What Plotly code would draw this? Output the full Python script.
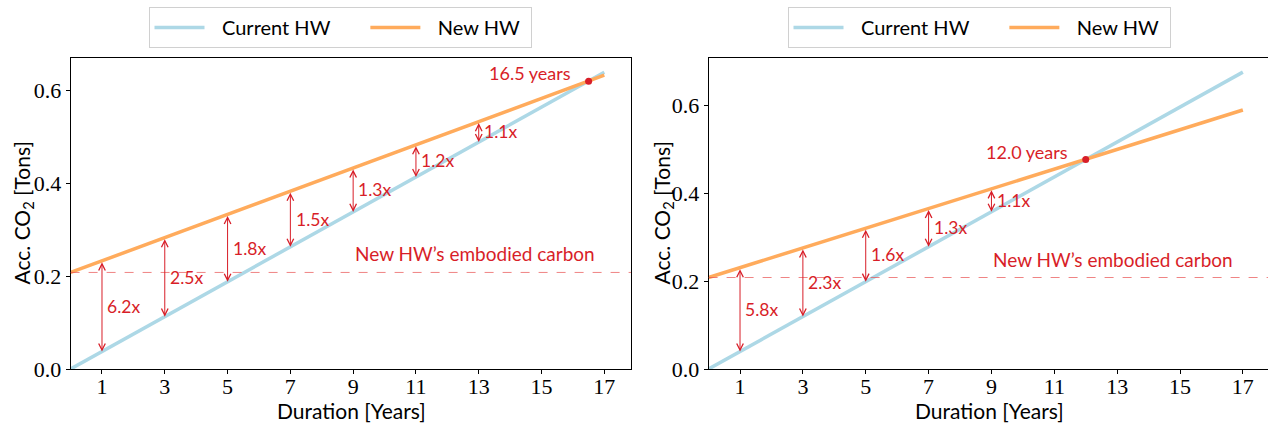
import plotly.graph_objects as go

# ---------------- data ----------------
years = [0, 1, 2, 3, 4, 5, 6, 7, 8, 9, 10, 11, 12, 13, 14, 15, 16, 17]

# left panel
cur_left = [0.0, 0.0376, 0.0752, 0.1128, 0.1504, 0.188, 0.2256, 0.2632, 0.3008,
            0.3384, 0.376, 0.4136, 0.4512, 0.4888, 0.5264, 0.564, 0.6016, 0.6392]
new_left = [0.208, 0.233, 0.258, 0.283, 0.308, 0.333, 0.358, 0.383, 0.408,
            0.433, 0.458, 0.483, 0.508, 0.533, 0.558, 0.583, 0.608, 0.633]
arrow_years_left = [1, 3, 5, 7, 9, 11, 13]
ratio_left = ["6.2x", "2.5x", "1.8x", "1.5x", "1.3x", "1.2x", "1.1x"]
cross_left = (16.5, 0.620)
cross_label_left = "16.5 years"

# right panel
cur_right = [0.0, 0.0397, 0.0794, 0.1191, 0.1588, 0.1985, 0.2382, 0.2779, 0.3176,
             0.3573, 0.397, 0.4367, 0.4764, 0.5161, 0.5558, 0.5955, 0.6352, 0.6749]
new_right = [0.208, 0.2304, 0.2528, 0.2752, 0.2976, 0.32, 0.3424, 0.3648, 0.3872,
             0.4096, 0.432, 0.4544, 0.4768, 0.4992, 0.5216, 0.544, 0.5664, 0.5888]
arrow_years_right = [1, 3, 5, 7, 9]
ratio_right = ["5.8x", "2.3x", "1.6x", "1.3x", "1.1x"]
cross_right = (12.0, 0.476)
cross_label_right = "12.0 years"

embodied = 0.208
embodied_label = "New HW\u2019s embodied carbon"

series_names = ["Current HW", "New HW"]
x_title = "Duration [Years]"
y_title = "Acc. CO<sub>2</sub> [Tons]"
x_ticks = [1, 3, 5, 7, 9, 11, 13, 15, 17]
y_ticks = [0.0, 0.2, 0.4, 0.6]

# ---------------- style ----------------
W, H = 1268, 423
BLUE = "#add8e6"
ORANGE = "#ffab5c"
RED = "#d81e28"
SANS = "Lato, 'Open Sans', sans-serif"
SERIF = "'Liberation Serif', 'DejaVu Serif', serif"

# legend label padding (gap after sample, spacing between entries)
legend_labels = ["\u2002\u2009" + series_names[0] + "\u2003\u2003",
                 "\u2002\u2009" + series_names[1] + "\u2009\u2009"]

fig = go.Figure()

panels = [
    dict(xa="x", ya="y", cur=cur_left, new=new_left, ay=arrow_years_left,
         rat=ratio_left, cross=cross_left, clab=cross_label_left, legend="legend",
         xt=351, yt=22),
    dict(xa="x2", ya="y2", cur=cur_right, new=new_right, ay=arrow_years_right,
         rat=ratio_right, cross=cross_right, clab=cross_label_right, legend="legend2",
         xt=989, yt=662),
]

annotations = []
shapes = []
y0 = (H - 369) / H
y1 = (H - 58) / H
TITLE_FONT = dict(family=SANS, size=21, color="black")

for p in panels:
    fig.add_trace(go.Scatter(x=years, y=p["cur"], mode="lines", name=legend_labels[0],
                             line=dict(color=BLUE, width=3.5), xaxis=p["xa"], yaxis=p["ya"],
                             legend=p["legend"]))
    fig.add_trace(go.Scatter(x=years, y=p["new"], mode="lines", name=legend_labels[1],
                             line=dict(color=ORANGE, width=3.5), xaxis=p["xa"], yaxis=p["ya"],
                             legend=p["legend"]))
    fig.add_trace(go.Scatter(x=[p["cross"][0]], y=[p["cross"][1]], mode="markers",
                             marker=dict(color=RED, size=7), showlegend=False,
                             xaxis=p["xa"], yaxis=p["ya"]))
    # embodied carbon line
    shapes.append(dict(type="line", xref=p["xa"] + " domain", yref=p["ya"],
                       x0=0, x1=1, y0=embodied, y1=embodied,
                       line=dict(color="rgba(232,80,80,0.7)", width=1, dash="dash")))
    annotations.append(dict(x=9, y=0.248, xref=p["xa"], yref=p["ya"], text=embodied_label,
                            showarrow=False, xanchor="left", yanchor="middle",
                            font=dict(family=SANS, size=19, color=RED)))
    annotations.append(dict(x=p["cross"][0] - 0.5, y=p["cross"][1] + 0.017, xref=p["xa"],
                            yref=p["ya"], text=p["clab"], showarrow=False,
                            xanchor="right", yanchor="middle",
                            font=dict(family=SANS, size=18, color=RED)))
    for yr, lab in zip(p["ay"], p["rat"]):
        top = p["new"][years.index(yr)]
        bot = p["cur"][years.index(yr)]
        annotations.append(dict(x=yr, y=bot, ax=yr, ay=top, xref=p["xa"], yref=p["ya"],
                                axref=p["xa"], ayref=p["ya"], text="", showarrow=True,
                                arrowhead=5, arrowside="end+start", arrowsize=1.3,
                                arrowwidth=1, arrowcolor=RED, standoff=0, startstandoff=0))
        annotations.append(dict(x=yr + 0.1, y=(top + bot) / 2, xref=p["xa"], yref=p["ya"],
                                text=lab, showarrow=False, xanchor="left", yanchor="middle",
                                font=dict(family=SANS, size=17.5, color=RED)))
    # axis titles
    annotations.append(dict(x=p["xt"] / W, y=1 - 410 / H, xref="paper", yref="paper",
                            text=x_title, showarrow=False, xanchor="center",
                            yanchor="middle", font=TITLE_FONT))
    annotations.append(dict(x=p["yt"] / W, y=(y0 + y1) / 2, xref="paper", yref="paper",
                            text=y_title, showarrow=False, textangle=-90,
                            xanchor="center", yanchor="middle", font=TITLE_FONT))

axis_common = dict(showline=True, linecolor="black", linewidth=1, ticks="outside",
                   ticklen=4, tickcolor="black", showgrid=False, zeroline=False,
                   automargin=False,
                   tickfont=dict(family=SERIF, size=22, color="black"))

legend_common = dict(orientation="h", xanchor="center", y=1 - 7 / H, yanchor="top",
                     bordercolor="#d0d0d0", borderwidth=1, bgcolor="white",
                     itemwidth=50, font=dict(family=SANS, size=20, color="black"))

fig.update_layout(
    width=W, height=H, margin=dict(l=0, r=0, t=0, b=0, autoexpand=False),
    plot_bgcolor="white", paper_bgcolor="white",
    xaxis=dict(domain=[70.6 / W, 631 / W], range=[0, 17.85], tickvals=x_ticks,
               mirror=True, anchor="y", ticklabelstandoff=-6, **axis_common),
    yaxis=dict(domain=[y0, y1], range=[0, 0.670], tickvals=y_ticks, tickformat=".1f",
               mirror=True, anchor="x", **axis_common),
    xaxis2=dict(domain=[708.6 / W, 1.0], range=[0, 17.8], tickvals=x_ticks,
                mirror=True, anchor="y2", ticklabelstandoff=-6, **axis_common),
    yaxis2=dict(domain=[y0, y1], range=[0, 0.707], tickvals=y_ticks, tickformat=".1f",
                mirror=False, anchor="x2", **axis_common),
    legend=dict(x=340 / W, **legend_common),
    legend2=dict(x=979 / W, **legend_common),
    annotations=annotations, shapes=shapes,
)

fig.write_html("out.html", post_script="document.body.style.margin='0';",
               config={"displayModeBar": False})
